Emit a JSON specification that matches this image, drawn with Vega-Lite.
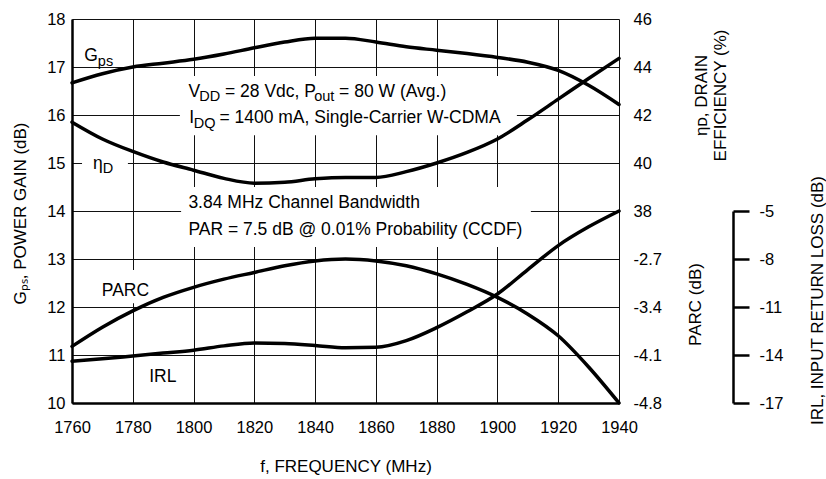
{
  "$schema": "https://vega.github.io/schema/vega-lite/v6.json",
  "width": 547,
  "height": 384,
  "autosize": {"type": "none"},
  "padding": {"left": 72, "top": 19, "right": 207, "bottom": 76},
  "background": "white",
  "config": {
    "font": "Liberation Sans",
    "view": {"stroke": null},
    "axis": {
      "labelFont": "Liberation Sans",
      "titleFont": "Liberation Sans",
      "labelColor": "black",
      "titleColor": "black",
      "titleFontWeight": "normal",
      "labelFontSize": 16.5,
      "titleFontSize": 17,
      "ticks": false,
      "domainColor": "black",
      "domainWidth": 2.5,
      "gridColor": "#111",
      "gridWidth": 1,
      "gridOpacity": 1,
      "labelOverlap": false,
      "labelFlush": false
    }
  },
  "datasets": {
    "curves": [
      {"f": 1760, "gps": 16.67, "eta": 41.7, "parc": -3.974, "irl": -14.39},
      {"f": 1770, "gps": 16.86, "eta": 41.0, "parc": -3.694, "irl": -14.24},
      {"f": 1780, "gps": 17.0, "eta": 40.48, "parc": -3.456, "irl": -14.06},
      {"f": 1790, "gps": 17.08, "eta": 40.04, "parc": -3.26, "irl": -13.88},
      {"f": 1800, "gps": 17.16, "eta": 39.7, "parc": -3.113, "irl": -13.7},
      {"f": 1810, "gps": 17.27, "eta": 39.36, "parc": -2.994, "irl": -13.43},
      {"f": 1820, "gps": 17.4, "eta": 39.16, "parc": -2.896, "irl": -13.25},
      {"f": 1830, "gps": 17.52, "eta": 39.2, "parc": -2.798, "irl": -13.28},
      {"f": 1840, "gps": 17.6, "eta": 39.34, "parc": -2.728, "irl": -13.4},
      {"f": 1850, "gps": 17.6, "eta": 39.4, "parc": -2.7, "irl": -13.55},
      {"f": 1860, "gps": 17.52, "eta": 39.4, "parc": -2.728, "irl": -13.52},
      {"f": 1870, "gps": 17.42, "eta": 39.64, "parc": -2.798, "irl": -13.1},
      {"f": 1880, "gps": 17.35, "eta": 40.0, "parc": -2.917, "irl": -12.29},
      {"f": 1890, "gps": 17.28, "eta": 40.44, "parc": -3.071, "irl": -11.3},
      {"f": 1900, "gps": 17.2, "eta": 41.0, "parc": -3.26, "irl": -10.19},
      {"f": 1910, "gps": 17.1, "eta": 41.8, "parc": -3.505, "irl": -8.66},
      {"f": 1920, "gps": 16.93, "eta": 42.66, "parc": -3.82, "irl": -7.16},
      {"f": 1930, "gps": 16.62, "eta": 43.52, "parc": -4.275, "irl": -5.99},
      {"f": 1940, "gps": 16.22, "eta": 44.36, "parc": -4.8, "irl": -5.0}
    ],
    "notes": [
      {"f": 1798.3, "g": 16.38, "text": "V", "kind": "main"},
      {"f": 1801.9, "g": 16.38, "text": "DD", "kind": "sub"},
      {"f": 1810.35, "g": 16.38, "text": "= 28 Vdc, P", "kind": "main"},
      {"f": 1839.7, "g": 16.38, "text": "out", "kind": "sub"},
      {"f": 1847.9, "g": 16.38, "text": "= 80 W (Avg.)", "kind": "main"},
      {"f": 1798.6, "g": 15.83, "text": "I", "kind": "main"},
      {"f": 1800.1, "g": 15.83, "text": "DQ", "kind": "sub"},
      {"f": 1808.5, "g": 15.83, "text": "= 1400 mA, Single-Carrier W-CDMA", "kind": "main"},
      {"f": 1798.3, "g": 14.06, "text": "3.84 MHz Channel Bandwidth", "kind": "main"},
      {"f": 1798.3, "g": 13.5, "text": "PAR = 7.5 dB @ 0.01% Probability (CCDF)", "kind": "main"},
      {"f": 1764.0, "g": 17.12, "text": "G", "kind": "main"},
      {"f": 1768.5, "g": 17.12, "text": "ps", "kind": "sub"},
      {"f": 1766.9, "g": 14.88, "text": "η", "kind": "main"},
      {"f": 1770.1, "g": 14.88, "text": "D", "kind": "sub"},
      {"f": 1769.8, "g": 12.22, "text": "PARC", "kind": "main"},
      {"f": 1785.4, "g": 10.44, "text": "IRL", "kind": "main"}
    ],
    "boxes": [
      {"f": 1795.5, "f2": 1906.4, "g": 15.58, "g2": 16.81},
      {"f": 1763.3, "f2": 1778.4, "g": 14.73, "g2": 15.27},
      {"f": 1795.9, "f2": 1911.0, "g": 13.25, "g2": 14.5},
      {"f": 1768.9, "f2": 1786.0, "g": 12.08, "g2": 12.77}
    ]
  },
  "encoding": {
    "x": {
      "field": "f",
      "type": "quantitative",
      "scale": {"domain": [1760, 1940], "nice": false, "zero": false},
      "axis": {
        "values": [1760, 1780, 1800, 1820, 1840, 1860, 1880, 1900, 1920, 1940],
        "format": "d",
        "grid": true,
        "labelPadding": 16,
        "title": "f, FREQUENCY (MHz)",
        "titleFontSize": 17,
        "titleY": 68,
        "titleBaseline": "alphabetic"
      }
    }
  },
  "layer": [
    {
      "data": {"name": "boxes"},
      "mark": {"type": "rect", "fill": "white", "strokeWidth": 0},
      "encoding": {
        "x2": {"field": "f2"},
        "y": {"field": "g", "type": "quantitative", "scale": {"domain": [10, 18], "nice": false, "zero": false}, "axis": null},
        "y2": {"field": "g2"}
      }
    },
    {
      "data": {"name": "notes"},
      "transform": [{"filter": "datum.kind == 'main'"}],
      "mark": {"type": "text", "align": "left", "baseline": "alphabetic", "fontSize": 17.5, "color": "black"},
      "encoding": {
        "y": {"field": "g", "type": "quantitative", "scale": {"domain": [10, 18], "nice": false, "zero": false}, "axis": null},
        "text": {"field": "text"}
      }
    },
    {
      "data": {"name": "notes"},
      "transform": [{"filter": "datum.kind == 'sub'"}],
      "mark": {"type": "text", "align": "left", "baseline": "alphabetic", "fontSize": 14.5, "dy": 4.5, "color": "black"},
      "encoding": {
        "y": {"field": "g", "type": "quantitative", "scale": {"domain": [10, 18], "nice": false, "zero": false}, "axis": null},
        "text": {"field": "text"}
      }
    },
    {
      "data": {"name": "curves"},
      "mark": {"type": "line", "color": "black", "strokeWidth": 3.5, "interpolate": "monotone", "strokeCap": "round"},
      "encoding": {
        "y": {
          "field": "gps",
          "type": "quantitative",
          "scale": {"domain": [10, 18], "nice": false, "zero": false},
          "axis": {
            "orient": "left",
            "values": [10, 11, 12, 13, 14, 15, 16, 17, 18],
            "grid": true,
            "labelPadding": 7,
            "title": "Gₚₛ, POWER GAIN (dB)",
            "titleAngle": 270,
            "titleX": -52,
            "titleY": 194,
            "titleAlign": "center",
            "titleBaseline": "middle"
          }
        }
      }
    },
    {
      "data": {"name": "curves"},
      "mark": {"type": "line", "color": "black", "strokeWidth": 3.5, "interpolate": "monotone", "strokeCap": "round"},
      "encoding": {
        "y": {
          "field": "eta",
          "type": "quantitative",
          "scale": {"domain": [30, 46], "nice": false, "zero": false},
          "axis": {
            "orient": "right",
            "values": [30, 32, 34, 36, 38, 40, 42, 44, 46],
            "labelExpr": "datum.value >= 38 ? '' + datum.value : '' + (round((-4.8 + (datum.value - 30) * 0.35) * 10) / 10)",
            "grid": false,
            "domain": false,
            "labelPadding": 14,
            "title": ["ηᴅ, DRAIN", "EFFICIENCY (%)"],
            "titleAngle": 270,
            "titleX": 82,
            "titleY": 76,
            "titleAlign": "center",
            "titleBaseline": "middle",
            "titleLineHeight": 19
          }
        }
      }
    },
    {
      "data": {"name": "curves"},
      "mark": {"type": "line", "color": "black", "strokeWidth": 3.5, "interpolate": "monotone", "strokeCap": "round"},
      "encoding": {
        "y": {
          "field": "parc",
          "type": "quantitative",
          "scale": {"domain": [-4.8, 0.8], "nice": false, "zero": false},
          "axis": {
            "orient": "right",
            "labels": false,
            "domain": false,
            "grid": false,
            "ticks": false,
            "title": "PARC (dB)",
            "titleAngle": 270,
            "titleX": 76,
            "titleY": 285,
            "titleAlign": "center",
            "titleBaseline": "middle"
          }
        }
      }
    },
    {
      "data": {"name": "curves"},
      "mark": {"type": "line", "color": "black", "strokeWidth": 3.5, "interpolate": "monotone", "strokeCap": "round"},
      "encoding": {
        "y": {
          "field": "irl",
          "type": "quantitative",
          "scale": {"domain": [-17, -5], "range": [384, 192], "nice": false, "zero": false},
          "axis": {
            "orient": "right",
            "offset": 114,
            "values": [-17, -14, -11, -8, -5],
            "labelExpr": "'' + datum.value",
            "grid": false,
            "domain": true,
            "ticks": true,
            "tickSize": 16,
            "tickWidth": 2.5,
            "tickColor": "black",
            "labelPadding": 10,
            "title": "IRL, INPUT RETURN LOSS (dB)",
            "titleAngle": 270,
            "titleX": 84,
            "titleY": 281,
            "titleAlign": "center",
            "titleBaseline": "middle"
          }
        }
      }
    }
  ],
  "resolve": {"scale": {"y": "independent"}, "axis": {"y": "independent"}}
}
